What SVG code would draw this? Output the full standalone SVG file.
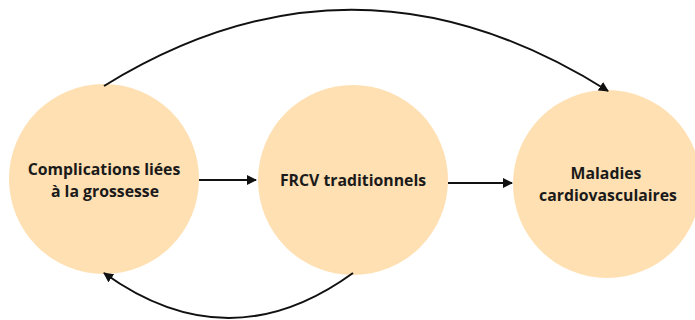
<svg xmlns="http://www.w3.org/2000/svg" width="695" height="320" viewBox="0 0 695 320">
<defs>
<style>
.node{fill:#FFE0B2;}
.lbl{font-family:"Open Sans","Liberation Sans",sans-serif;font-weight:700;font-size:15.8px;fill:#1a1a1a;text-anchor:middle;}
.edge{fill:none;stroke:#111;stroke-width:2;marker-end:url(#ah);}
</style>
<marker id="ah" viewBox="0 0 10 10" refX="9" refY="5" markerWidth="5" markerHeight="5" orient="auto" markerUnits="strokeWidth">
<path d="M0,0 L10,5 L0,10 z" fill="#111"/>
</marker>
</defs>
<rect width="695" height="320" fill="#fff"/>
<g id="n1">
<circle class="node" cx="104" cy="179" r="95"/>
<text class="lbl" x="104" y="175">Complications liées</text>
<text class="lbl" x="105" y="197">à la grossesse</text>
</g>
<g id="n2">
<circle class="node" cx="353" cy="180" r="95"/>
<text class="lbl" x="353" y="186">FRCV traditionnels</text>
</g>
<g id="n3">
<circle class="node" cx="607" cy="184" r="94"/>
<text class="lbl" x="606" y="179">Maladies</text>
<text class="lbl" x="608" y="201">cardiovasculaires</text>
</g>
<g id="edges">
<path class="edge" d="M199,180 L256,180"/>
<path class="edge" d="M448,183 L512,183"/>
<path class="edge" d="M104,86 Q355,-69 608,91"/>
<path class="edge" d="M353,273 Q229,363 104,273"/>
</g>
</svg>
